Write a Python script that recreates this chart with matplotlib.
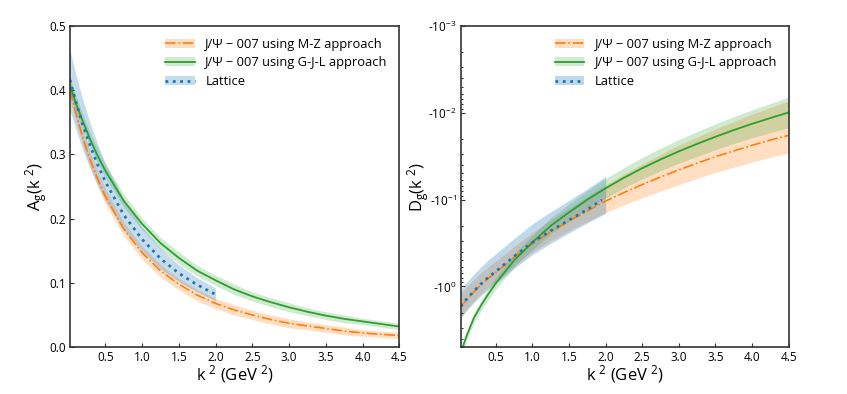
#Gluon form factors A_g and D_g: J/psi-007 fits vs lattice
import matplotlib
matplotlib.use('Agg')
import matplotlib.pyplot as plt
import numpy as np
from matplotlib.ticker import SymmetricalLogLocator, FixedLocator, FuncFormatter

plt.rcParams['font.family'] = ['Open Sans', 'DejaVu Sans']
plt.rcParams['mathtext.default'] = 'regular'
plt.rcParams['axes.unicode_minus'] = False

#k^2 grid (GeV^2)
k2 = [0.02, 0.1, 0.2, 0.3, 0.4, 0.5, 0.75, 1.0, 1.25, 1.5, 1.75, 2.0,
      2.25, 2.5, 2.75, 3.0, 3.25, 3.5, 3.75, 4.0, 4.25, 4.5]
k2_lat = k2[:12]

#A_g(k^2)
A_mz = [0.400, 0.364, 0.324, 0.290, 0.261, 0.235, 0.184, 0.147, 0.119, 0.098, 0.081, 0.068,
        0.058, 0.050, 0.043, 0.037, 0.033, 0.029, 0.025, 0.022, 0.020, 0.018]
A_mz_err = [0.014, 0.013, 0.013, 0.012, 0.012, 0.012, 0.011, 0.010, 0.010, 0.009, 0.009, 0.008,
            0.008, 0.007, 0.007, 0.007, 0.006, 0.006, 0.006, 0.005, 0.005, 0.005]
A_gjl = [0.408, 0.380, 0.350, 0.322, 0.297, 0.275, 0.228, 0.192, 0.162, 0.139, 0.119, 0.104,
         0.090, 0.079, 0.070, 0.062, 0.055, 0.049, 0.044, 0.040, 0.036, 0.032]
A_gjl_err = [0.012, 0.012, 0.011, 0.011, 0.011, 0.010, 0.010, 0.009, 0.009, 0.009, 0.008, 0.008,
             0.008, 0.007, 0.007, 0.007, 0.006, 0.006, 0.006, 0.005, 0.005, 0.005]
A_lat = [0.416, 0.382, 0.344, 0.312, 0.283, 0.258, 0.206, 0.168, 0.138, 0.115, 0.097, 0.082]
A_lat_err = [0.047, 0.043, 0.039, 0.035, 0.032, 0.029, 0.024, 0.019, 0.016, 0.013, 0.011, 0.010]

#D_g(k^2)
D_mz = [-1.72, -1.42, -1.15, -0.95, -0.80, -0.69, -0.46, -0.32, -0.235, -0.177, -0.135, -0.104,
        -0.083, -0.067, -0.055, -0.0455, -0.038, -0.032, -0.0275, -0.0237, -0.0206, -0.0182]
D_mz_err = [0.52, 0.41, 0.32, 0.26, 0.21, 0.18, 0.115, 0.080, 0.063, 0.051, 0.043, 0.037,
            0.032, 0.028, 0.025, 0.022, 0.019, 0.0166, 0.0149, 0.0133, 0.0119, 0.0109]
D_gjl = [-5.8, -3.7, -2.3, -1.64, -1.21, -0.92, -0.50, -0.31, -0.20, -0.140, -0.100, -0.074,
         -0.056, -0.0434, -0.0345, -0.0278, -0.0228, -0.0189, -0.0158, -0.0134, -0.0115, -0.0099]
D_gjl_fac = [1.12, 1.13, 1.14, 1.15, 1.16, 1.17, 1.19, 1.21, 1.23, 1.25, 1.27, 1.29,
             1.31, 1.33, 1.35, 1.37, 1.39, 1.41, 1.43, 1.45, 1.47, 1.50]
D_lat = [-1.70, -1.40, -1.13, -0.93, -0.78, -0.67, -0.45, -0.31, -0.228, -0.172, -0.130, -0.099]
D_lat_err = [0.60, 0.50, 0.41, 0.34, 0.29, 0.25, 0.17, 0.12, 0.090, 0.070, 0.055, 0.045]

c_mz, c_gjl, c_lat = '#ff7f0e', '#2ca02c', '#1f77b4'
lab_mz = 'J/Ψ − 007 using M-Z approach'
lab_gjl = 'J/Ψ − 007 using G-J-L approach'
lab_lat = 'Lattice'

fig = plt.figure(figsize=(8.47, 3.94), dpi=100)
ax1 = fig.add_axes([0.0826, 0.119, 0.389, 0.815])
ax2 = fig.add_axes([0.544, 0.119, 0.387, 0.815])

def style(ax):
    for s in ax.spines.values():
        s.set_color('#333333')
        s.set_linewidth(1.2)
    ax.tick_params(direction='in', length=3, width=0.8, labelsize=8.5, pad=3, color='#333333')
    ax.tick_params(which='minor', direction='in', length=1.5, width=0.6)
    ax.set_xlim(0.02, 4.5)
    ax.set_xticks([0.5, 1.0, 1.5, 2.0, 2.5, 3.0, 3.5, 4.0, 4.5])
    ax.set_xlabel('k$^{\\ 2}$ (GeV$^{\\ 2}$)', fontsize=12, labelpad=-1)

def legend(ax, handles):
    ax.legend(handles=handles, labels=[lab_mz, lab_gjl, lab_lat], loc='upper right',
              frameon=False, fontsize=9.3, handlelength=2.3, labelspacing=0.45, borderaxespad=0.5)

#left panel: A_g
x = np.array(k2)
xl = np.array(k2_lat)
p1 = ax1.fill_between(x, np.array(A_mz) - A_mz_err, np.array(A_mz) + A_mz_err, color=c_mz, alpha=0.25, lw=0)
l1, = ax1.plot(x, A_mz, color=c_mz, ls='-.', lw=1.2)
p2 = ax1.fill_between(x, np.array(A_gjl) - A_gjl_err, np.array(A_gjl) + A_gjl_err, color=c_gjl, alpha=0.22, lw=0)
l2, = ax1.plot(x, A_gjl, color=c_gjl, ls='-', lw=1.3)
p3 = ax1.fill_between(xl, np.array(A_lat) - A_lat_err, np.array(A_lat) + A_lat_err, color=c_lat, alpha=0.25, lw=0)
l3, = ax1.plot(xl, A_lat, color=c_lat, ls=':', lw=2.0)
style(ax1)
ax1.set_ylim(0.0, 0.5)
ax1.set_yticks([0.0, 0.1, 0.2, 0.3, 0.4, 0.5])
ax1.set_ylabel('A$_g$(k$^{\\ 2}$)', fontsize=12, labelpad=0)
legend(ax1, [(p1, l1), (p2, l2), (p3, l3)])

#right panel: D_g on symlog scale
dmz = np.array(D_mz)
dgjl = np.array(D_gjl)
dlat = np.array(D_lat)
q1 = ax2.fill_between(x, dmz - D_mz_err, dmz + np.array(D_mz_err), color=c_mz, alpha=0.25, lw=0)
m1, = ax2.plot(x, D_mz, color=c_mz, ls='-.', lw=1.2)
q2 = ax2.fill_between(x, dgjl * D_gjl_fac, dgjl / np.array(D_gjl_fac), color=c_gjl, alpha=0.22, lw=0)
m2, = ax2.plot(x, D_gjl, color=c_gjl, ls='-', lw=1.3)
q3 = ax2.fill_between(xl, dlat - D_lat_err, dlat + D_lat_err, color=c_lat, alpha=0.28, lw=0)
m3, = ax2.plot(xl[:-1].tolist() + [1.95], D_lat[:-1] + [-0.101], color=c_lat, ls=':', lw=2.0)
ax2.set_yscale('symlog', linthresh=1e-4)
ax2.set_ylim(-5, -1e-3)
ax2.yaxis.set_major_locator(FixedLocator([-1.0, -0.1, -0.01, -0.001]))
ax2.yaxis.set_major_formatter(FuncFormatter(lambda v, p: '-10$^{%d}$' % round(np.log10(-v))))
ax2.yaxis.set_minor_locator(SymmetricalLogLocator(linthresh=1e-4, base=10, subs=np.arange(2, 10)))
style(ax2)
ax2.set_ylabel('D$_g$(k$^{\\ 2}$)', fontsize=12, labelpad=-2)
legend(ax2, [(q1, m1), (q2, m2), (q3, m3)])

fig.savefig('out.png', dpi=100)
